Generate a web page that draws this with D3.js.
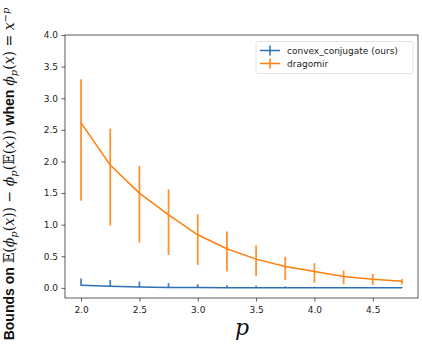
<!DOCTYPE html>
<html lang="en">
<head>
<meta charset="UTF-8">
<title>Bounds</title>
<script src="https://cdn.jsdelivr.net/npm/d3@7"></script>
<style>
    body{ margin:0; background:#fff; }
    svg text{ font-family: "DejaVu Sans", sans-serif; }
</style>
</head>
<body>
<div id="chart"></div>
<script>
    // values
    const pValues = [2.0, 2.25, 2.5, 2.75, 3.0, 3.25, 3.5, 3.75, 4.0, 4.25, 4.5, 4.75];
    const oursMean = [0.04, 0.025, 0.015, 0.008, 0.005, 0.003, 0.002, 0.001, 0.001, 0.0005, 0.0003, 0.0002];
    const oursLow  = [0.03, 0.02, 0.01, 0.005, 0.003, 0.002, 0.001, 0.0, 0.0, 0.0, 0.0, 0.0];
    const oursHigh = [0.15, 0.125, 0.10, 0.075, 0.058, 0.042, 0.032, 0.025, 0.02, 0.015, 0.012, 0.01];
    const dragMean = [2.61, 1.945, 1.50, 1.155, 0.84, 0.62, 0.455, 0.337, 0.258, 0.18, 0.137, 0.105];
    const dragLow  = [1.38, 0.985, 0.716, 0.52, 0.364, 0.258, 0.19, 0.126, 0.084, 0.058, 0.047, 0.058];
    const dragHigh = [3.30, 2.52, 1.93, 1.56, 1.165, 0.89, 0.669, 0.495, 0.39, 0.274, 0.221, 0.142];
    const xTicks = [2.0, 2.5, 3.0, 3.5, 4.0, 4.5];
    const yTicks = [0.0, 0.5, 1.0, 1.5, 2.0, 2.5, 3.0, 3.5, 4.0];
    const seriesNames = ["convex_conjugate (ours)", "dragomir"];
    const colors = ["#2f6fb3", "#ff7f0e"];

    const W = 422, H = 348;
    const box = {left: 65, right: 418, top: 35, bottom: 298};

    const svg = d3.select("#chart").append("svg")
        .attr("width", W).attr("height", H);

    const x = d3.scaleLinear().domain([1.8625, 4.8875]).range([box.left, box.right]);
    const y = d3.scaleLinear().domain([-0.16, 4.0]).range([box.bottom, box.top]);

    const series = [
        {name: seriesNames[0], color: colors[0], mean: oursMean, low: oursLow, high: oursHigh},
        {name: seriesNames[1], color: colors[1], mean: dragMean, low: dragLow, high: dragHigh}
    ];

    // axes
    const xAxis = svg.append("g")
        .attr("transform", `translate(0,${box.bottom})`)
        .call(d3.axisBottom(x).tickValues(xTicks).tickFormat(d3.format(".1f")).tickSize(3.5).tickSizeOuter(0));
    const yAxis = svg.append("g")
        .attr("transform", `translate(${box.left},0)`)
        .call(d3.axisLeft(y).tickValues(yTicks).tickFormat(d3.format(".1f")).tickSize(3.5).tickSizeOuter(0));
    [xAxis, yAxis].forEach(a => {
        a.select(".domain").remove();
        a.selectAll(".tick line").attr("stroke", "#333").attr("stroke-width", 0.8);
        a.selectAll(".tick text").attr("fill", "#222").style("font-size", "9px")
            .style("font-family", "'DejaVu Sans', sans-serif");
    });
    xAxis.selectAll(".tick text").attr("dy", "0.71em").attr("y", 9);
    yAxis.selectAll(".tick text").attr("x", -7);

    // series
    const line = d3.line().x((d, i) => x(pValues[i])).y(d => y(d));
    const g = svg.append("g");
    series.forEach(s => {
        g.append("path")
            .datum(s.mean)
            .attr("d", line)
            .attr("fill", "none")
            .attr("stroke", s.color)
            .attr("stroke-width", 1.5);
        g.selectAll(null)
            .data(pValues)
            .join("line")
            .attr("x1", d => x(d)).attr("x2", d => x(d))
            .attr("y1", (d, i) => y(s.low[i]))
            .attr("y2", (d, i) => y(s.high[i]))
            .attr("stroke", s.color)
            .attr("stroke-opacity", 0.85)
            .attr("stroke-width", 1.8);
    });

    // frame
    svg.append("rect")
        .attr("x", box.left).attr("y", box.top)
        .attr("width", box.right - box.left).attr("height", box.bottom - box.top)
        .attr("fill", "none").attr("stroke", "#333").attr("stroke-width", 0.8);

    // legend
    const leg = svg.append("g");
    leg.append("rect")
        .attr("x", 256).attr("y", 41.5).attr("width", 157).attr("height", 32)
        .attr("rx", 2).attr("fill", "#fff").attr("fill-opacity", 0.8)
        .attr("stroke", "#ddd").attr("stroke-width", 0.8);
    series.forEach((s, i) => {
        const cy = 50.5 + i * 13;
        leg.append("line").attr("x1", 260).attr("x2", 280).attr("y1", cy).attr("y2", cy)
            .attr("stroke", s.color).attr("stroke-width", 1.5);
        leg.append("line").attr("x1", 270).attr("x2", 270).attr("y1", cy - 5).attr("y2", cy + 5)
            .attr("stroke", s.color).attr("stroke-width", 1.5);
        leg.append("text").attr("x", 287).attr("y", cy).attr("dy", "0.35em")
            .style("font-size", "9px").attr("fill", "#222").text(s.name);
    });

    // x label
    svg.append("text")
        .attr("x", (box.left + box.right) / 2 + 0.5).attr("y", 335)
        .attr("text-anchor", "middle")
        .style("font-family", "'DejaVu Serif', serif").style("font-style", "italic")
        .style("font-size", "22px").attr("fill", "#111")
        .text("p");

    // y label, bold words + math
    const yl = svg.append("text")
        .attr("transform", "translate(14,174) rotate(-90)")
        .attr("text-anchor", "middle")
        .style("font-size", "14px").attr("fill", "#111");
    const serif = "'DejaVu Serif', serif";
    const parts = [
        {t: "Bounds on ", bold: true},
        {t: "\u{1D53C}(", math: true, upright: true},
        {t: "\u03D5", math: true}, {t: "p", math: true, sub: true},
        {t: "(", math: true, upright: true}, {t: "x", math: true}, {t: ")) \u2212 ", math: true, upright: true},
        {t: "\u03D5", math: true}, {t: "p", math: true, sub: true},
        {t: "(\u{1D53C}(", math: true, upright: true}, {t: "x", math: true}, {t: ")) ", math: true, upright: true},
        {t: "when ", bold: true},
        {t: "\u03D5", math: true}, {t: "p", math: true, sub: true},
        {t: "(", math: true, upright: true}, {t: "x", math: true}, {t: ") = ", math: true, upright: true},
        {t: "x", math: true}, {t: "\u2212p", math: true, sup: true}
    ];
    let shift = 0;
    parts.forEach(p => {
        const ts = yl.append("tspan").text(p.t);
        if (p.bold) ts.style("font-weight", "bold").style("font-family", "'Liberation Sans', Arial, sans-serif");
        if (p.math) ts.style("font-family", serif).style("font-style", p.upright ? "normal" : "italic");
        let target = 0;
        if (p.sub) { target = 3; ts.style("font-size", "10px"); }
        if (p.sup) { target = -5; ts.style("font-size", "10px"); }
        if (target !== shift) { ts.attr("dy", target - shift); shift = target; }
    });
</script>
</body>
</html>
